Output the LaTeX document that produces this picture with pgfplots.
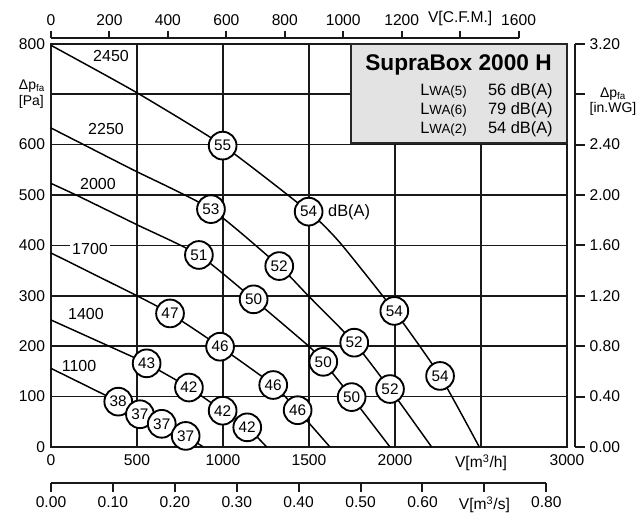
\documentclass[border=0pt]{standalone}
\usepackage{fontspec}
\setmainfont{Liberation Sans}
\usepackage{pgfplots}
\pgfplotsset{compat=1.18}
\newcommand\tfs{\fontsize{11.7}{14}\selectfont}
\newcommand\rfs{\fontsize{12}{14}\selectfont}
\newcommand\cfs{\fontsize{11.5}{13}\selectfont}
\newcommand\vfs{\fontsize{12.3}{14}\selectfont}
\newcommand\sfs{\fontsize{10.5}{11.6}\selectfont}

\pgfplotstableread{
V P
0 797
494 704
1000 598
1498 467
1681 405
1996 270
2262 141
2490 0
}\rpmA
\pgfplotstableread{
V P
0 633
465 552
930 472
1327 359
1496 300
1763 207
1971 115
2213 0
}\rpmB
\pgfplotstableread{
V P
0 523
152 499
500 441
860 381
1178 293
1502 199
1583 169
1748 99
1971 0
}\rpmC
\pgfplotstableread{
V P
0 385
494 301
692 265
983 199
1292 123
1434 73
1622 0
}\rpmD
\pgfplotstableread{
V P
0 252
500 175
556 166
802 118
998 72
1141 39
1254 0
}\rpmE
\pgfplotstableread{
V P
0 156
391 90
517 66
644 45
783 22
886 0
}\rpmF
\pgfplotstableread{
V P lab
998 598 55
1498 467 54
1996 270 54
2262 141 54
930 472 53
1327 359 52
1763 207 52
1971 115 52
860 381 51
1178 293 50
1583 169 50
1748 99 50
692 265 47
983 199 46
1292 123 46
1434 73 46
556 166 43
802 118 42
998 72 42
1141 39 42
391 90 38
517 65 37
644 46 37
783 22 37
}\circles

\begin{document}
\begin{tikzpicture}
\useasboundingbox (-38.25pt,-51pt) rectangle (441.75pt,335.25pt);
% main axis
\begin{axis}[
  at={(0,0)}, anchor=south west,
  scale only axis, width=387pt, height=302.4pt,
  xmin=0, xmax=3000, ymin=0, ymax=800,
  clip=false,
  xtick={0,500,1000,1500,2000,2500,3000},
  xticklabels={0,500,1000,1500,2000,{V[m\textsuperscript{3}/h]},3000},
  ytick={0,100,200,300,400,500,600,700,800},
  yticklabels={0,100,200,300,400,500,600,{\sfs\begin{tabular}{@{}l@{}}Δp\textsubscript{fa}\\\relax [Pa]\end{tabular}},800},
  grid=major,
  major grid style={black!90, line width=1.2pt},
  major tick length=0pt,
  axis line style={black!90, line width=1.7pt},
  xticklabel style={font=\tfs, yshift=-2pt},
  yticklabel style={font=\tfs, xshift=-1pt},
]
\addplot[black, line width=1.1pt, smooth, tension=0.35] table[x=V,y=P] {\rpmA};
\addplot[black, line width=1.1pt, smooth, tension=0.35] table[x=V,y=P] {\rpmB};
\addplot[black, line width=1.1pt, smooth, tension=0.35] table[x=V,y=P] {\rpmC};
\addplot[black, line width=1.1pt, smooth, tension=0.35] table[x=V,y=P] {\rpmD};
\addplot[black, line width=1.1pt, smooth, tension=0.35] table[x=V,y=P] {\rpmE};
\addplot[black, line width=1.1pt, smooth, tension=0.35] table[x=V,y=P] {\rpmF};
\addplot[only marks, mark=*, mark size=10.4pt,
  mark options={fill=white, draw=black, line width=1.4pt},
  nodes near coords, point meta=explicit symbolic,
  nodes near coords style={anchor=center, font=\cfs, inner sep=0pt}]
  table[x=V,y=P,meta=lab] {\circles};
\node[font=\rfs] at (axis cs:349,776) {2450};
\node[font=\rfs] at (axis cs:320,631) {2250};
\node[font=\rfs] at (axis cs:273,522) {2000};
\node[font=\rfs, fill=white, inner sep=1.5pt] at (axis cs:227,393) {1700};
\node[font=\rfs] at (axis cs:203,264) {1400};
\node[font=\rfs] at (axis cs:163,161) {1100};
\node[font=\vfs, anchor=west, inner sep=0pt] at (axis cs:1610,466) {dB(A)};
% info box
\node[draw=black!85, line width=1.8pt, fill=black!11, anchor=north east,
  minimum width=162pt, minimum height=74.25pt, inner sep=0pt, outer sep=0pt] (lg) at (rel axis cs:1,1) {};
\node[anchor=base east, inner sep=0pt, font=\bfseries\fontsize{17}{20}\selectfont]
  at ([xshift=-11.25pt,yshift=-19.65pt]lg.north east) {SupraBox 2000 H};
\node[anchor=base east, inner sep=0pt, font=\vfs] at ([xshift=-10.5pt,yshift=-38.55pt]lg.north east) {56 dB(A)};
\node[anchor=base east, inner sep=0pt, font=\vfs] at ([xshift=-10.5pt,yshift=-52.8pt]lg.north east) {79 dB(A)};
\node[anchor=base east, inner sep=0pt, font=\vfs] at ([xshift=-10.5pt,yshift=-67.05pt]lg.north east) {54 dB(A)};
\node[anchor=base east, inner sep=0pt, font=\vfs] at ([xshift=-75pt,yshift=-38.55pt]lg.north east) {L{\fontsize{10}{12}\selectfont WA(5)}};
\node[anchor=base east, inner sep=0pt, font=\vfs] at ([xshift=-75pt,yshift=-52.8pt]lg.north east) {L{\fontsize{10}{12}\selectfont WA(6)}};
\node[anchor=base east, inner sep=0pt, font=\vfs] at ([xshift=-75pt,yshift=-67.05pt]lg.north east) {L{\fontsize{10}{12}\selectfont WA(2)}};
\end{axis}
% top CFM axis
\begin{axis}[
  at={(0,306.9pt)}, anchor=north west,
  scale only axis, width=350.7pt, height=1pt,
  xmin=0, xmax=1600, ymin=0, ymax=1,
  axis x line*=top, axis y line=none,
  xtick={0,200,400,600,800,1000,1200,1400,1600},
  xticklabels={0,200,400,600,800,1000,1200,{V[C.F.M.]},1600},
  tick align=outside, major tick length=5.25pt,
  axis line style={black!90, line width=1.5pt},
  tick style={black!90, line width=1.5pt},
  xticklabel style={font=\tfs},
]
\end{axis}
% bottom m3/s axis
\begin{axis}[
  at={(0,-26.8pt)}, anchor=south west,
  scale only axis, width=371.5pt, height=1pt,
  xmin=0, xmax=0.8, ymin=0, ymax=1,
  axis x line*=bottom, axis y line=none,
  xtick={0,0.1,0.2,0.3,0.4,0.5,0.6,0.7,0.8},
  xticklabels={0.00,0.10,0.20,0.30,0.40,0.50,0.60,{V[m\textsuperscript{3}/s]},0.80},
  tick align=outside, major tick length=6.75pt,
  axis line style={black!90, line width=1.5pt},
  tick style={black!90, line width=1.5pt},
  xticklabel style={font=\tfs},
]
\end{axis}
% right in.WG axis
\begin{axis}[
  at={(393pt,0)}, anchor=south east,
  scale only axis, width=1pt, height=302.4pt,
  xmin=0, xmax=1, ymin=0, ymax=3.2,
  axis y line*=right, axis x line=none,
  ytick={0,0.4,0.8,1.2,1.6,2.0,2.4,2.8,3.2},
  yticklabels={0.00,0.40,0.80,1.20,1.60,2.00,2.40,{\sfs\begin{tabular}{@{}c@{}}\\Δp\textsubscript{fa}\\\relax [in.WG]\end{tabular}},3.20},
  tick align=outside, major tick length=7.5pt,
  axis line style={black!90, line width=1.5pt},
  tick style={black!90, line width=1.5pt},
  yticklabel style={font=\tfs},
]
\end{axis}
\end{tikzpicture}
\end{document}
